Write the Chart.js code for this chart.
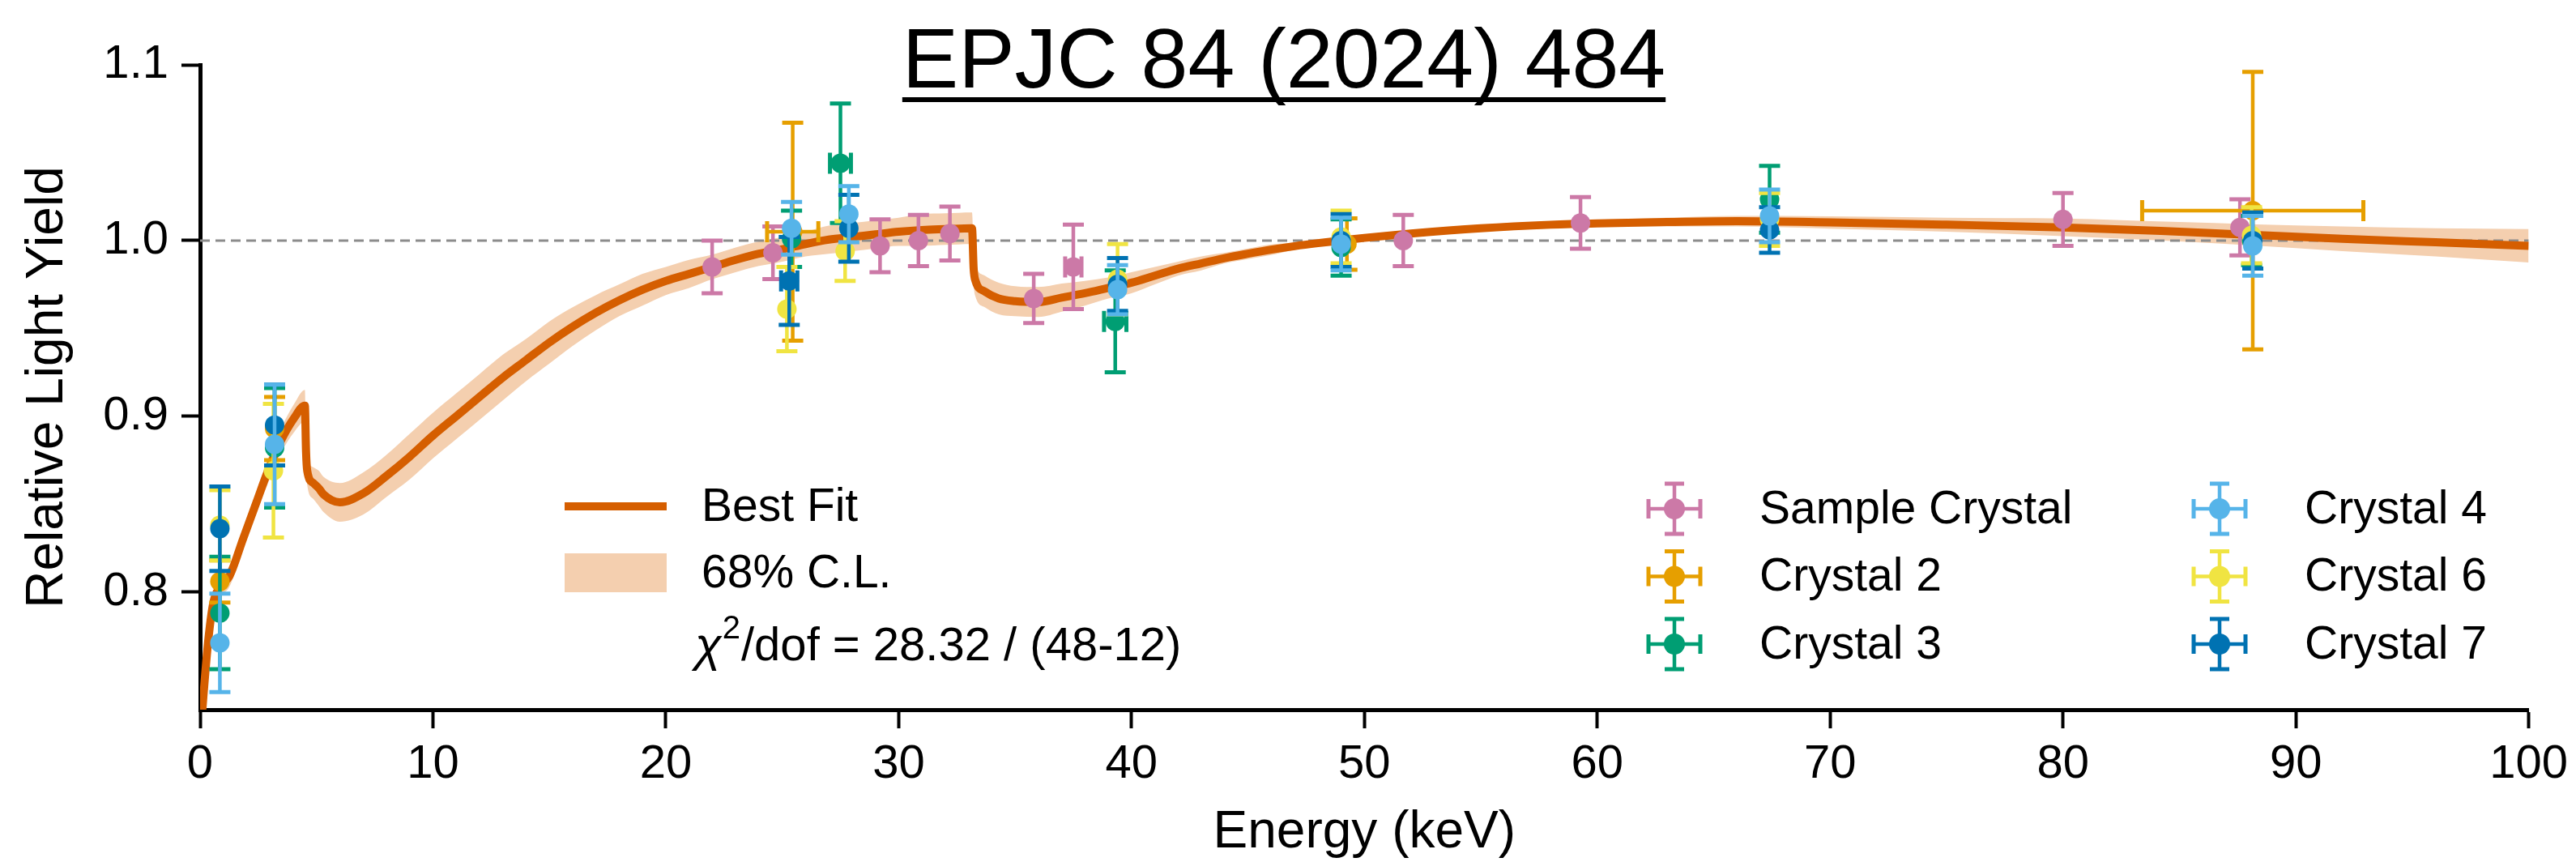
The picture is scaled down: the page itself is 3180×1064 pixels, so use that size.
<!DOCTYPE html>
<html>
<head>
<meta charset="utf-8">
<script src="https://cdn.jsdelivr.net/npm/chart.js@4.4.1/dist/chart.umd.min.js"></script>
<style>
  html, body { margin: 0; padding: 0; background: #fff; }
  canvas { display: block; }
</style>
</head>
<body>
<canvas id="lyChart" width="3180" height="1064" style="width:3180px;height:1064px"></canvas>
<script>
// fit curve: energy (keV), relative yield, half width of the 68% band
const fitEnergy = [0, 0.34, 0.57, 0.86, 1.26, 1.84, 2.42, 2.89, 3.47, 4.04, 4.5, 4.55, 4.6, 4.86, 5.1, 5.3,
  6, 7, 8, 9, 10, 11, 12, 13, 14, 15, 16, 17, 18, 19, 20, 21, 22, 23, 24, 25, 26, 27, 28, 29, 30, 31, 32,
  33.15, 33.22, 33.3, 33.7, 34.3, 35, 36, 37, 38, 39, 40, 41, 42, 43, 44, 45, 46, 47, 48, 49, 50, 52, 55,
  58, 60, 63, 66, 70, 75, 80, 85, 88, 92, 96, 100];
const fitYield = [0.717, 0.771, 0.794, 0.803, 0.809, 0.830, 0.851, 0.868, 0.886, 0.899, 0.906, 0.880, 0.869, 0.862, 0.859, 0.8555,
  0.851, 0.856, 0.866, 0.877, 0.889, 0.900, 0.911, 0.922, 0.932, 0.942, 0.951, 0.959, 0.966, 0.972, 0.977, 0.981, 0.985, 0.989, 0.9925, 0.995, 0.998, 1.0005, 1.002, 1.0035, 1.005, 1.006, 1.0065,
  1.007, 0.984, 0.977, 0.971, 0.967, 0.9655, 0.965, 0.9675, 0.970, 0.973, 0.976, 0.980, 0.984, 0.987, 0.990, 0.9925, 0.9948, 0.9968, 0.9985, 1.000, 1.0015, 1.004, 1.007,
  1.009, 1.0098, 1.0105, 1.011, 1.0103, 1.009, 1.0075, 1.005, 1.0033, 1.001, 0.999, 0.997];
const bandHalf = [0.006, 0.006, 0.006, 0.006, 0.006, 0.006, 0.006, 0.007, 0.007, 0.008, 0.009, 0.008, 0.008, 0.009, 0.010, 0.010,
  0.011, 0.012, 0.012, 0.013, 0.013, 0.013, 0.013, 0.013, 0.012, 0.012, 0.011, 0.010, 0.009, 0.009, 0.008, 0.008, 0.007, 0.007, 0.007, 0.007, 0.007, 0.008, 0.008, 0.008, 0.008, 0.009, 0.009,
  0.009, 0.009, 0.009, 0.009, 0.009, 0.0085, 0.0085, 0.008, 0.007, 0.006, 0.006, 0.005, 0.004, 0.004, 0.003, 0.003, 0.003, 0.002, 0.002, 0.002, 0.002, 0.002, 0.002,
  0.002, 0.002, 0.0025, 0.003, 0.0035, 0.004, 0.005, 0.0055, 0.006, 0.007, 0.008, 0.0095];

// measurements
const sampleE = [21.99, 24.6, 29.2, 30.85, 32.2, 35.8, 37.5, 51.67, 59.28, 80.0, 87.6];
const sampleY = [0.985, 0.993, 0.997, 1.000, 1.004, 0.967, 0.985, 1.000, 1.010, 1.012, 1.0075];
const sampleYErr = [0.015, 0.015, 0.015, 0.0146, 0.0153, 0.014, 0.024, 0.0146, 0.0147, 0.015, 0.016];
const sampleXErr = [0, 0, 0, 0, 0, 0, 0.35, 0, 0, 0, 0];

const c2E = [0.85, 3.2, 25.45, 49.25, 88.15];
const c2Y = [0.806, 0.893, 1.005, 0.998, 1.017];
const c2YErr = [0.012, 0.018, 0.062, 0.0146, 0.079];
const c2XErr = [0, 0, 1.1, 0, 4.75];

const c3E = [0.85, 3.2, 25.4, 27.5, 39.3, 49.0, 67.4, 88.1];
const c3Y = [0.788, 0.882, 1.001, 1.044, 0.954, 0.996, 1.0235, 1.0];
const c3YErr = [0.032, 0.034, 0.016, 0.034, 0.029, 0.016, 0.019, 0.014];
const c3XErr = [0, 0, 0, 0.45, 0.48, 0, 0, 0];

const c4E = [0.85, 3.2, 25.4, 27.86, 39.4, 49.0, 67.4, 88.15];
const c4Y = [0.771, 0.884, 1.007, 1.015, 0.972, 0.998, 1.014, 0.997];
const c4YErr = [0.028, 0.034, 0.015, 0.016, 0.014, 0.015, 0.015, 0.017];
const c4XErr = [0, 0, 0, 0, 0, 0, 0, 0];

const c6E = [0.85, 3.15, 25.2, 27.7, 39.4, 49.0, 67.4, 88.1];
const c6Y = [0.838, 0.869, 0.961, 0.994, 0.978, 1.002, 1.012, 1.003];
const c6YErr = [0.02, 0.038, 0.024, 0.017, 0.02, 0.015, 0.015, 0.016];
const c6XErr = [0, 0, 0, 0, 0, 0, 0, 0];

const c7E = [0.85, 3.2, 25.3, 27.86, 39.4, 49.0, 67.4, 88.15];
const c7Y = [0.836, 0.895, 0.977, 1.007, 0.975, 1.0, 1.006, 1.0];
const c7YErr = [0.024, 0.023, 0.025, 0.019, 0.015, 0.015, 0.013, 0.016];
const c7XErr = [0, 0, 0.35, 0, 0, 0, 0, 0];

const xTicks = [0, 10, 20, 30, 40, 50, 60, 70, 80, 90, 100];
const yTicks = [0.8, 0.9, 1.0, 1.1];

const FONT = '"Liberation Sans", Arial, Helvetica, sans-serif';

function toPoints(xs, ys) {
  return xs.map((x, i) => ({ x: x, y: ys[i] }));
}

function series(label, color, xs, ys, yErr, xErr, order) {
  return {
    label: label,
    data: toPoints(xs, ys),
    errY: yErr,
    errX: xErr,
    borderColor: color,
    backgroundColor: color,
    pointRadius: 12,
    pointBorderWidth: 0,
    showLine: false,
    order: order
  };
}

// error bars are drawn just before each series' markers
const errorBarPlugin = {
  id: 'errorBars',
  beforeDatasetDraw(chart, args) {
    const ds = chart.data.datasets[args.index];
    if (!ds.errY) return;
    const ctx = chart.ctx;
    const xs = chart.scales.x, ys = chart.scales.y;
    const area = chart.chartArea;
    const cap = 13;
    ctx.save();
    ctx.beginPath();
    ctx.rect(area.left, area.top - 4, area.width, area.height + 4);
    ctx.clip();
    ctx.strokeStyle = ds.borderColor;
    ds.data.forEach((p, i) => {
      const px = xs.getPixelForValue(p.x);
      const py = ys.getPixelForValue(p.y);
      const top = ys.getPixelForValue(p.y + ds.errY[i]);
      const bot = ys.getPixelForValue(p.y - ds.errY[i]);
      ctx.lineWidth = 4.5;
      ctx.beginPath();
      ctx.moveTo(px, bot); ctx.lineTo(px, top);
      ctx.stroke();
      ctx.lineWidth = 5;
      ctx.beginPath();
      ctx.moveTo(px - cap, top); ctx.lineTo(px + cap, top);
      ctx.moveTo(px - cap, bot); ctx.lineTo(px + cap, bot);
      ctx.stroke();
      if (ds.errX[i] > 0) {
        const l = xs.getPixelForValue(p.x - ds.errX[i]);
        const r = xs.getPixelForValue(p.x + ds.errX[i]);
        ctx.lineWidth = 4.5;
        ctx.beginPath();
        ctx.moveTo(l, py); ctx.lineTo(r, py);
        ctx.stroke();
        ctx.lineWidth = 5;
        ctx.beginPath();
        ctx.moveTo(l, py - cap); ctx.lineTo(l, py + cap);
        ctx.moveTo(r, py - cap); ctx.lineTo(r, py + cap);
        ctx.stroke();
      }
    });
    ctx.restore();
  }
};

function errSymbol(ctx, cx, cy, color) {
  ctx.strokeStyle = color;
  ctx.fillStyle = color;
  ctx.lineWidth = 4.5;
  ctx.beginPath();
  ctx.moveTo(cx, cy - 31); ctx.lineTo(cx, cy + 31);
  ctx.moveTo(cx - 32, cy); ctx.lineTo(cx + 32, cy);
  ctx.stroke();
  ctx.lineWidth = 5;
  ctx.beginPath();
  ctx.moveTo(cx - 12, cy - 31); ctx.lineTo(cx + 12, cy - 31);
  ctx.moveTo(cx - 12, cy + 31); ctx.lineTo(cx + 12, cy + 31);
  ctx.moveTo(cx - 32, cy - 12); ctx.lineTo(cx - 32, cy + 12);
  ctx.moveTo(cx + 32, cy - 12); ctx.lineTo(cx + 32, cy + 12);
  ctx.stroke();
  ctx.beginPath();
  ctx.arc(cx, cy, 13, 0, Math.PI * 2);
  ctx.fill();
}

// title, legends and the chi2 note
const figureTextPlugin = {
  id: 'figureText',
  afterDraw(chart) {
    const ctx = chart.ctx;
    ctx.save();
    ctx.fillStyle = '#000';
    ctx.textAlign = 'center';
    ctx.textBaseline = 'alphabetic';
    ctx.font = '104px ' + FONT;
    const title = 'EPJC 84 (2024) 484';
    ctx.fillText(title, 1585, 108);
    const tw = ctx.measureText(title).width;
    ctx.fillRect(1585 - tw / 2, 120, tw, 6);

    ctx.textAlign = 'left';
    ctx.textBaseline = 'middle';
    ctx.font = '57px ' + FONT;

    // fit legend
    ctx.fillStyle = '#D55E00';
    ctx.fillRect(697, 620, 126, 10);
    ctx.fillStyle = '#F4CFAF';
    ctx.fillRect(697, 683, 126, 48);
    ctx.fillStyle = '#000';
    ctx.fillText('Best Fit', 866, 627);
    ctx.fillText('68% C.L.', 866, 709);

    // chi2 / dof
    let x = 858;
    const y = 799;
    ctx.font = 'italic 60px ' + FONT;
    ctx.fillText('\u03C7', x, y);
    x += ctx.measureText('\u03C7').width;
    ctx.font = '40px ' + FONT;
    ctx.fillText('2', x + 1, y - 22);
    x += ctx.measureText('2').width + 2;
    ctx.font = '58px ' + FONT;
    ctx.fillText('/dof = 28.32 / (48-12)', x, y);

    // data legend
    const entries = chart.data.datasets.filter(d => d.errY);
    const order = ['Sample Crystal', 'Crystal 2', 'Crystal 3', 'Crystal 4', 'Crystal 6', 'Crystal 7'];
    ctx.font = '57px ' + FONT;
    order.forEach((name, k) => {
      const ds = entries.find(d => d.label === name);
      const col = Math.floor(k / 3), row = k % 3;
      const sx = col === 0 ? 2067 : 2740;
      const tx = col === 0 ? 2172 : 2845;
      const sy = 628 + row * 83.5;
      errSymbol(ctx, sx, sy, ds.borderColor);
      ctx.fillStyle = '#000';
      ctx.fillText(name, tx, sy + 2);
    });
    ctx.restore();
  }
};

const bandLow = fitEnergy.map((e, i) => ({ x: e, y: fitYield[i] - bandHalf[i] }));
const bandHigh = fitEnergy.map((e, i) => ({ x: e, y: fitYield[i] + bandHalf[i] }));

const ctx = document.getElementById('lyChart').getContext('2d');

new Chart(ctx, {
  type: 'scatter',
  data: {
    datasets: [
      series('Crystal 4', '#56B4E9', c4E, c4Y, c4YErr, c4XErr, 1),
      series('Crystal 7', '#0072B2', c7E, c7Y, c7YErr, c7XErr, 2),
      series('Crystal 6', '#F0E442', c6E, c6Y, c6YErr, c6XErr, 3),
      series('Crystal 3', '#009E73', c3E, c3Y, c3YErr, c3XErr, 4),
      series('Crystal 2', '#E69F00', c2E, c2Y, c2YErr, c2XErr, 5),
      series('Sample Crystal', '#CC79A7', sampleE, sampleY, sampleYErr, sampleXErr, 6),
      {
        label: 'Best Fit',
        data: toPoints(fitEnergy, fitYield),
        showLine: true,
        borderColor: '#D55E00',
        borderWidth: 10,
        pointRadius: 0,
        cubicInterpolationMode: 'monotone',
        order: 8
      },
      {
        label: 'unity',
        data: [{ x: 0, y: 1 }, { x: 100, y: 1 }],
        showLine: true,
        borderColor: '#8c8c8c',
        borderWidth: 3,
        borderDash: [12, 7],
        pointRadius: 0,
        order: 9
      },
      {
        label: 'band low',
        data: bandLow,
        showLine: true,
        borderWidth: 0,
        borderColor: 'rgba(0,0,0,0)',
        pointRadius: 0,
        cubicInterpolationMode: 'monotone',
        fill: false,
        order: 11
      },
      {
        label: '68% C.L.',
        data: bandHigh,
        showLine: true,
        borderWidth: 0,
        borderColor: 'rgba(0,0,0,0)',
        backgroundColor: '#F4CFAF',
        pointRadius: 0,
        cubicInterpolationMode: 'monotone',
        fill: '-1',
        order: 10
      }
    ]
  },
  options: {
    responsive: false,
    animation: false,
    devicePixelRatio: 1,
    events: [],
    layout: { padding: { top: 80, right: 57, left: 0, bottom: 0 } },
    plugins: {
      legend: { display: false },
      tooltip: { enabled: false },
      filler: { propagate: false }
    },
    scales: {
      x: {
        type: 'linear',
        min: 0,
        max: 100,
        afterFit: s => { s.height = 188; },
        afterBuildTicks: s => { s.ticks = xTicks.map(v => ({ value: v })); },
        ticks: {
          color: '#000',
          font: { family: FONT, size: 58 },
          padding: 10,
          maxRotation: 0,
          autoSkip: false,
          callback: v => String(v)
        },
        grid: { display: true, drawOnChartArea: false, drawTicks: true, tickLength: 23, tickWidth: 4, tickColor: '#000' },
        border: { display: true, color: '#000', width: 5 },
        title: {
          display: true,
          text: 'Energy (keV)',
          color: '#000',
          font: { family: FONT, size: 64, lineHeight: 1 },
          padding: { top: 0, bottom: 4 }
        }
      },
      y: {
        type: 'linear',
        min: 0.733,
        max: 1.1,
        afterFit: s => { s.width = 247; },
        afterBuildTicks: s => { s.ticks = yTicks.map(v => ({ value: v })); },
        ticks: {
          color: '#000',
          font: { family: FONT, size: 58 },
          padding: 16,
          callback: v => v.toFixed(1)
        },
        grid: { display: true, drawOnChartArea: false, drawTicks: true, tickLength: 23, tickWidth: 4, tickColor: '#000' },
        border: { display: true, color: '#000', width: 5 },
        title: {
          display: true,
          text: 'Relative Light Yield',
          color: '#000',
          font: { family: FONT, size: 64, lineHeight: 1 },
          padding: { top: 27, bottom: 0 }
        }
      }
    }
  },
  plugins: [errorBarPlugin, figureTextPlugin]
});
</script>
</body>
</html>
